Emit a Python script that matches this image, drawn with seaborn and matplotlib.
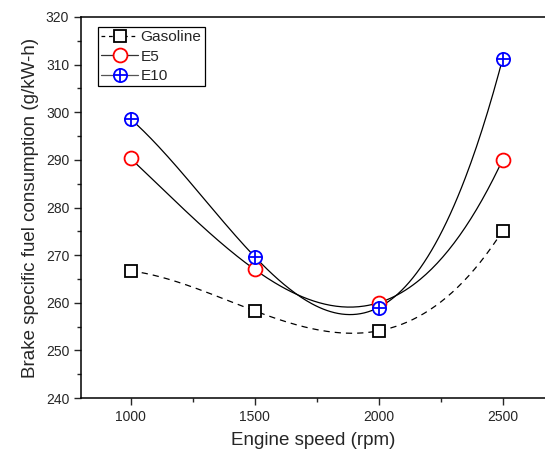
import numpy as np
import pandas as pd
import matplotlib
matplotlib.use("Agg")
import matplotlib.pyplot as plt
import seaborn as sns
from matplotlib.legend_handler import HandlerTuple
from matplotlib.ticker import MultipleLocator

speed = [1000, 1500, 2000, 2500]
gasoline = [266.7, 258.3, 254.1, 275.1]
e5 = [290.3, 267.0, 260.0, 290.0]
e10 = [298.6, 269.7, 259.0, 311.2]

sns.set_style("ticks")
plt.rcParams['font.family'] = ['Liberation Sans', 'DejaVu Sans']

fig = plt.figure(figsize=(5.45, 4.57), dpi=100)
ax = fig.add_axes([81/545, 1 - 398/457, 1 - 81/545, (398 - 17)/457])

xs = np.linspace(1000, 2500, 200)
rows = []
for name, vals in [("Gasoline", gasoline), ("E5", e5), ("E10", e10)]:
    c = np.polyfit(speed, vals, 3)
    for x, y in zip(xs, np.polyval(c, xs)):
        rows.append({"x": x, "y": y, "series": name})
curves = pd.DataFrame(rows)

sns.lineplot(data=curves[curves.series == "Gasoline"], x="x", y="y", ax=ax,
             color="black", lw=0.9, linestyle=(0, (5, 4)), legend=False)
sns.lineplot(data=curves[curves.series == "E5"], x="x", y="y", ax=ax,
             color="black", lw=0.9, legend=False)
sns.lineplot(data=curves[curves.series == "E10"], x="x", y="y", ax=ax,
             color="black", lw=0.9, legend=False)

ax.plot(speed, gasoline, ls='none', marker='s', ms=8.5, mfc='white',
        mec='black', mew=1.3, zorder=5)
ax.plot(speed, e5, ls='none', marker='o', ms=10, mfc='white',
        mec='red', mew=1.3, zorder=5)
ax.plot(speed, e10, ls='none', marker='o', ms=9.5, mfc='white',
        mec='blue', mew=1.3, zorder=6)
ax.plot(speed, e10, ls='none', marker='+', ms=9.5, mec='blue',
        mew=1.3, zorder=7)

# legend handles
lg, = ax.plot([], [], color='black', lw=0.9, ls=(0, (3, 3)), marker='s', ms=8.5,
              mfc='white', mec='black', mew=1.3)
lr, = ax.plot([], [], color='#333333', lw=0.9, marker='o', ms=10,
              mfc='white', mec='red', mew=1.3)
lb1, = ax.plot([], [], color='#555555', lw=0.9, marker='o', ms=9.5,
               mfc='white', mec='blue', mew=1.3)
lb2, = ax.plot([], [], ls='none', marker='+', ms=9.5, mec='blue', mew=1.3)

leg = ax.legend([lg, lr, (lb1, lb2)], ["Gasoline", "E5", "E10"],
                handler_map={tuple: HandlerTuple(ndivide=1, pad=0)},
                loc='upper left', bbox_to_anchor=(0.037, 0.974),
                frameon=True, fancybox=False, edgecolor='black', framealpha=1,
                fontsize=11.1, handlelength=2.4, handletextpad=0.15,
                labelspacing=0.37, borderpad=0.2, borderaxespad=0)
leg.get_frame().set_linewidth(0.9)

ax.set_xlim(800, 2671)
ax.set_ylim(240, 320)
ax.xaxis.set_major_locator(MultipleLocator(500))
ax.xaxis.set_minor_locator(MultipleLocator(250))
ax.yaxis.set_major_locator(MultipleLocator(10))
ax.yaxis.set_minor_locator(MultipleLocator(5))
ax.tick_params(which='major', direction='out', length=5, width=1, labelsize=10,
               top=False, right=False)
ax.tick_params(which='minor', direction='out', length=3, width=1,
               top=False, right=False)
for s in ax.spines.values():
    s.set_linewidth(1.1)
    s.set_color('black')
ax.spines['right'].set_visible(False)

ax.set_xlabel("Engine speed (rpm)", fontsize=13.5, labelpad=6)
ax.set_ylabel("Brake specific fuel consumption (g/kW-h)", fontsize=13.5, labelpad=5)

fig.savefig("out.png", dpi=100)
